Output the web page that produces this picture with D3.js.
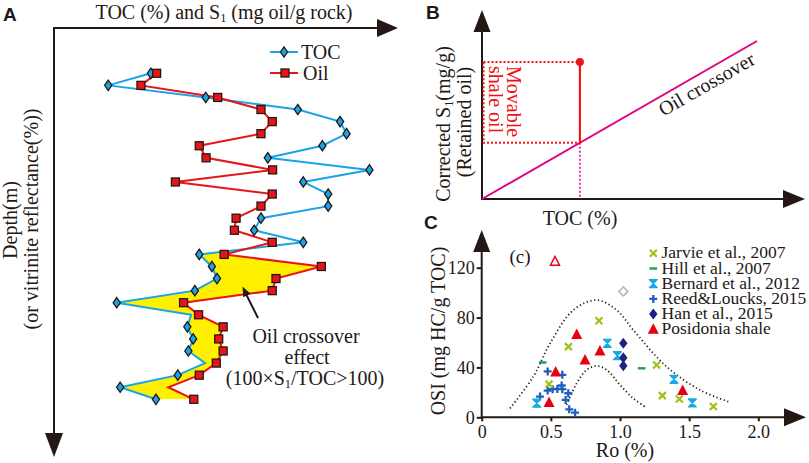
<!DOCTYPE html>
<html>
<head>
<meta charset="utf-8">
<script src="https://cdn.jsdelivr.net/npm/d3@7"></script>
<style>
  html, body { margin: 0; padding: 0; background: #fff; }
  svg { display: block; }
</style>
</head>
<body>
<svg id="chart" width="809" height="463"></svg>
<script>
// ---------------- Panel A data ----------------
const depthLevels = [1,2,3,4,5,6,7,8,9,10,11,12,13,14,15,16,17,18,19,20,21,22,23,24,25,26,27,28];
const tocValues = [2.84,1.59,4.45,7.15,8.39,8.58,7.87,6.27,9.25,7.31,8.04,8.04,6.07,5.87,7.31,4.26,4.63,4.78,4.13,1.84,4.02,3.91,4.08,3.94,4.43,3.63,1.94,2.99];
const oilValues = [3.01,2.55,4.80,6.07,6.40,6.07,4.26,4.46,6.41,3.56,6.40,6.07,5.34,5.29,6.40,4.99,7.84,6.51,6.40,3.80,4.24,4.96,4.83,4.96,4.76,4.26,3.35,4.10];
const tocHiddenMarkers = [21, 25];   // depth levels drawn without marker
const oilHiddenMarkers = [27];
const crossoverStartLevel = 15;      // shading applies from this level downward
const legendA = ["TOC", "Oil"];

// ---------------- Panel B data ----------------
const crossoverLine = [[0, 0], [10, 10]];
const samplePoint = { toc: 3.56, s1: 8.67 };

// ---------------- Panel C data ----------------
const jarvie = [[0.848,77.5],[0.627,56.7],[0.487,26.6],[1.265,42],[1.306,17.4],[1.429,14.7],[1.675,8.6]];
const hill = [[0.441,44],[1.157,39.3]];
const bernard = [[0.398,11.3],[0.908,59.3],[0.981,49.4],[1.39,30.5],[1.523,11.5]];
const reed = [[0.477,36.8],[0.583,34.1],[0.422,16.6],[0.477,21.4],[0.513,22.6],[0.547,22.8],[0.578,25.5],[0.583,22.6],[0.626,19.3],[0.607,13.9],[0.633,6.4],[0.675,3.7]];
const han = [[1.024,59.3],[1.024,47.8],[1.024,41.4]];
const posidonia = [[0.687,66.5],[0.855,53.2],[0.747,46],[0.535,36.3],[0.487,11.8],[1.453,21.4]];
const posidoniaOutlier = [[0.53,125]];
const greyOutlier = [[1.024,101]];
const outerEnvelope = [[0.205,7.2],[0.373,32.6],[0.494,59.3],[0.663,86],[0.831,94],[0.976,86],[1.096,70],[1.337,40.6],[1.578,21.9],[1.783,12.6]];
const innerEnvelope = [[0.614,9.9],[0.687,27.3],[0.759,38],[0.831,41.2],[0.904,38],[1.0,26],[1.096,15.2],[1.18,8.6]];
const yTicksC = [0, 40, 80, 120];
const xTicksC = [0, 0.5, 1.0, 1.5, 2.0];
const legendC = ["Jarvie et al., 2007","Hill et al., 2007","Bernard et al., 2012","Reed&Loucks, 2015","Han et al., 2015","Posidonia shale"];

// ---------------- styles ----------------
const INK = "#231815";
const BLUE = "#1aa3e8";
const RED = "#e8141a";
const YELLOW = "#fff000";
const MAGENTA = "#e4007f";
const SERIF = '"Liberation Serif", "Times New Roman", serif';
const SANS = '"Liberation Sans", Arial, sans-serif';

const svg = d3.select("#chart");

function arrow(g, tip, dir, len, half) {
  let pts;
  const [x, y] = tip;
  if (dir === "right") pts = [[x, y], [x - len, y - half], [x - len, y + half]];
  if (dir === "down") pts = [[x, y], [x - half, y - len], [x + half, y - len]];
  if (dir === "up") pts = [[x, y], [x - half, y + len], [x + half, y + len]];
  g.append("path").attr("d", "M" + pts.map(p => p.join(",")).join("L") + "Z").attr("fill", INK);
}

function serifText(g, x, y, size, parts, opts = {}) {
  const t = g.append("text").attr("x", x).attr("y", y)
    .attr("font-family", SERIF).attr("font-size", size)
    .attr("fill", opts.fill || INK)
    .attr("text-anchor", opts.anchor || "middle");
  if (opts.transform) t.attr("transform", opts.transform);
  let pending = 0;
  parts.forEach(p => {
    if (typeof p === "string") {
      const s = t.append("tspan").text(p);
      if (pending) { s.attr("dy", pending); pending = 0; }
    } else {
      t.append("tspan").attr("font-size", size * 0.62).attr("dy", size * 0.16).text(p.sub);
      pending = -size * 0.16;
    }
  });
  return t;
}

// ================= Panel A =================
const gA = svg.append("g");
const xA = d3.scaleLinear().domain([0, 10]).range([54, 395]);
const yA = d3.scaleLinear().domain([1, 28]).range([73.3, 399.3]);

const rows = depthLevels.map((d, i) => ({ depth: d, toc: tocValues[i], oil: oilValues[i] }));

// axes
gA.append("line").attr("x1", 54).attr("y1", 28).attr("x2", 382).attr("y2", 28).attr("stroke", INK).attr("stroke-width", 2);
gA.append("line").attr("x1", 54).attr("y1", 27).attr("x2", 54).attr("y2", 440).attr("stroke", INK).attr("stroke-width", 2);
arrow(gA, [398, 28], "right", 21, 9);
arrow(gA, [54, 457], "down", 24, 9);

// crossover shading
const shadeRows = rows.filter(r => r.depth >= crossoverStartLevel);
const defs = svg.append("defs");
defs.append("clipPath").attr("id", "rightOfToc").append("path")
  .attr("d", d3.area().y(r => yA(r.depth)).x0(r => xA(r.toc)).x1(800)(shadeRows));
gA.append("path")
  .attr("d", d3.area().y(r => yA(r.depth)).x0(r => xA(r.toc)).x1(r => xA(r.oil))(shadeRows))
  .attr("fill", YELLOW).attr("clip-path", "url(#rightOfToc)");

// lines
gA.append("path").attr("d", d3.line().x(r => xA(r.toc)).y(r => yA(r.depth))(rows))
  .attr("fill", "none").attr("stroke", BLUE).attr("stroke-width", 2);
gA.append("path").attr("d", d3.line().x(r => xA(r.oil)).y(r => yA(r.depth))(rows))
  .attr("fill", "none").attr("stroke", RED).attr("stroke-width", 2);

const diamondPath = "M0,-5.2L3.6,0L0,5.2L-3.6,0Z";
function diamond(g, x, y, fill) {
  g.append("path").attr("d", diamondPath).attr("transform", `translate(${x},${y})`)
    .attr("fill", fill).attr("stroke", INK).attr("stroke-width", 1.3);
}
function square(g, x, y) {
  g.append("rect").attr("x", x - 4).attr("y", y - 4).attr("width", 8).attr("height", 8)
    .attr("fill", RED).attr("stroke", INK).attr("stroke-width", 1.3);
}
rows.filter(r => !tocHiddenMarkers.includes(r.depth)).forEach(r => diamond(gA, xA(r.toc), yA(r.depth), BLUE));
rows.filter(r => !oilHiddenMarkers.includes(r.depth)).forEach(r => square(gA, xA(r.oil), yA(r.depth)));

// legend A
gA.append("line").attr("x1", 270).attr("x2", 298).attr("y1", 52).attr("y2", 52).attr("stroke", BLUE).attr("stroke-width", 2);
diamond(gA, 284, 52, BLUE);
serifText(gA, 301, 59, 20, [legendA[0]], { anchor: "start" });
gA.append("line").attr("x1", 270).attr("x2", 298).attr("y1", 73).attr("y2", 73).attr("stroke", RED).attr("stroke-width", 2);
square(gA, 285, 73);
serifText(gA, 303, 80, 20, [legendA[1]], { anchor: "start" });

// titles
gA.append("text").attr("x", 3).attr("y", 21).attr("font-family", SANS).attr("font-weight", "bold").attr("font-size", 19).attr("fill", INK).text("A");
serifText(gA, 224, 19, 20, ["TOC (%) and S", { sub: "1" }, " (mg oil/g rock)"]);
serifText(gA, 0, 0, 20, ["Depth(m)"], { transform: "translate(17,220) rotate(-90)" });
serifText(gA, 0, 0, 20, ["(or vitrinite reflectance(%))"], { transform: "translate(38,219) rotate(-90)" });

// annotation
serifText(gA, 306, 343, 20, ["Oil crossover"]);
serifText(gA, 307, 364, 20, ["effect"]);
serifText(gA, 305, 385, 20, ["(100×S", { sub: "1" }, "/TOC>100)"]);
gA.append("line").attr("x1", 258).attr("y1", 318).attr("x2", 246).attr("y2", 294).attr("stroke", INK).attr("stroke-width", 2);
(function () {
  const tip = [242.5, 286.5], ang = Math.atan2(318 - 286.5, 258 - 242.5);
  const L = 10, H = 4;
  const bx = tip[0] + L * Math.cos(ang), by = tip[1] + L * Math.sin(ang);
  const px = -Math.sin(ang) * H, py = Math.cos(ang) * H;
  gA.append("path").attr("d", `M${tip}L${bx + px},${by + py}L${bx - px},${by - py}Z`).attr("fill", INK);
})();

// ================= Panel B =================
const gB = svg.append("g");
const xB = d3.scaleLinear().domain([0, 10]).range([482, 757]);
const yB = d3.scaleLinear().domain([0, 10]).range([199, 41]);

gB.append("line").attr("x1", 482).attr("y1", 200).attr("x2", 482).attr("y2", 28).attr("stroke", INK).attr("stroke-width", 2);
gB.append("line").attr("x1", 481).attr("y1", 199).attr("x2", 787).attr("y2", 199).attr("stroke", INK).attr("stroke-width", 2);
arrow(gB, [482, 10], "up", 22, 8.5);
arrow(gB, [805, 199], "right", 22, 9);

gB.append("path").attr("d", d3.line().x(d => xB(d[0])).y(d => yB(d[1]))(crossoverLine))
  .attr("stroke", MAGENTA).attr("stroke-width", 2).attr("fill", "none");

const sx = xB(samplePoint.toc), sy = yB(samplePoint.s1), cy = yB(samplePoint.toc);
gB.append("line").attr("x1", sx).attr("x2", sx).attr("y1", cy).attr("y2", 199)
  .attr("stroke", MAGENTA).attr("stroke-width", 1.6).attr("stroke-dasharray", "2,2");
gB.append("rect").attr("x", 483.5).attr("y", sy).attr("width", sx - 483.5).attr("height", cy - sy)
  .attr("fill", "none").attr("stroke", "#f01010").attr("stroke-width", 2).attr("stroke-dasharray", "2,2");
gB.append("line").attr("x1", sx).attr("x2", sx).attr("y1", sy).attr("y2", cy).attr("stroke", "#f01010").attr("stroke-width", 2);
gB.append("circle").attr("cx", sx).attr("cy", sy).attr("r", 4).attr("fill", "#e8141a");

serifText(gB, 0, 0, 20, ["Movable"], { anchor: "start", fill: "#f01010", transform: "translate(507,66) rotate(90)" });
serifText(gB, 0, 0, 20, ["shale oil"], { anchor: "start", fill: "#f01010", transform: "translate(489,66) rotate(90)" });

const angB = Math.atan2(yB(10) - yB(0), xB(10) - xB(0)) * 180 / Math.PI;
serifText(gB, 0, 0, 20, ["Oil crossover"], { transform: `translate(710,90) rotate(${angB})` });

gB.append("text").attr("x", 426).attr("y", 19).attr("font-family", SANS).attr("font-weight", "bold").attr("font-size", 19).attr("fill", INK).text("B");
serifText(gB, 580, 225, 20, ["TOC (%)"]);
serifText(gB, 0, 0, 20, ["Corrected  S", { sub: "1" }, "(mg/g)"], { transform: "translate(450,124) rotate(-90)" });
serifText(gB, 0, 0, 20, ["(Retained oil)"], { transform: "translate(471,122) rotate(-90)" });

// ================= Panel C =================
const gC = svg.append("g");
const xC = d3.scaleLinear().domain([0, 2]).range([481.7, 758.3]);
const yC = d3.scaleLinear().domain([0, 120]).range([417.3, 267.7]);

gC.append("line").attr("x1", 481.7).attr("y1", 418).attr("x2", 481.7).attr("y2", 248).attr("stroke", INK).attr("stroke-width", 2);
gC.append("line").attr("x1", 481).attr("y1", 417.3).attr("x2", 788).attr("y2", 417.3).attr("stroke", INK).attr("stroke-width", 2);
arrow(gC, [481.7, 230], "up", 22, 8.5);
arrow(gC, [806, 417.3], "right", 22, 9);

const axL = gC.append("g").attr("transform", "translate(481.7,0)")
  .call(d3.axisLeft(yC).tickValues(yTicksC).tickSize(5).tickPadding(2));
const axB = gC.append("g").attr("transform", "translate(0,417.3)")
  .call(d3.axisBottom(xC).tickValues(xTicksC).tickSize(4).tickPadding(4)
    .tickFormat(d => d === 0 ? "0" : d3.format(".1f")(d)));
[axL, axB].forEach(a => {
  a.select(".domain").remove();
  a.selectAll("line").attr("stroke", INK).attr("stroke-width", 2);
  a.selectAll("text").attr("font-family", SERIF).attr("font-size", 18).attr("fill", INK);
});

// envelopes
[outerEnvelope, innerEnvelope].forEach(curve => {
  gC.append("path").attr("d", d3.line().x(d => xC(d[0])).y(d => yC(d[1])).curve(d3.curveCatmullRom)(curve))
    .attr("fill", "none").attr("stroke", INK).attr("stroke-width", 1.8).attr("stroke-dasharray", "1.2,2.6");
});

const COL = { jarvie: "#9cc31a", hill: "#16a05a", bernard: "#16a8e8", reed: "#1f5fc0", han: "#1c2280", pos: "#e60012" };
function drawMarker(g, type, x, y) {
  const t = `translate(${x},${y})`;
  if (type === "jarvie") g.append("path").attr("d", "M-3.5,-3.5L3.5,3.5M-3.5,3.5L3.5,-3.5").attr("transform", t).attr("stroke", COL.jarvie).attr("stroke-width", 2.2);
  if (type === "hill") g.append("path").attr("d", "M-3.8,0H3.8").attr("transform", t).attr("stroke", COL.hill).attr("stroke-width", 2.4);
  if (type === "bernard") {
    g.append("path").attr("d", "M-4,-4H4L-4,4H4Z").attr("transform", t).attr("fill", COL.bernard).attr("stroke", COL.bernard).attr("stroke-width", 1.2).attr("stroke-linejoin", "round");
  }
  if (type === "reed") g.append("path").attr("d", "M-4,0H4M0,-4V4").attr("transform", t).attr("stroke", COL.reed).attr("stroke-width", 2.3);
  if (type === "han") g.append("path").attr("d", "M0,-5.5L4.2,0L0,5.5L-4.2,0Z").attr("transform", t).attr("fill", COL.han);
  if (type === "pos") g.append("path").attr("d", "M0,-6L5.5,4.5H-5.5Z").attr("transform", t).attr("fill", COL.pos);
  if (type === "posOpen") g.append("path").attr("d", "M0,-5L4.5,3.8H-4.5Z").attr("transform", t).attr("fill", "#fff").attr("stroke", COL.pos).attr("stroke-width", 1.5);
  if (type === "grey") g.append("path").attr("d", "M0,-4.5L4.5,0L0,4.5L-4.5,0Z").attr("transform", t).attr("fill", "#fff").attr("stroke", "#b8b8b8").attr("stroke-width", 1.6);
}
const seriesC = [["reed", reed], ["bernard", bernard], ["jarvie", jarvie], ["hill", hill], ["han", han], ["pos", posidonia], ["posOpen", posidoniaOutlier], ["grey", greyOutlier]];
seriesC.forEach(([type, data]) => data.forEach(d => drawMarker(gC, type, xC(d[0]), yC(d[1]))));

// legend C
const legTypes = ["jarvie", "hill", "bernard", "reed", "han", "pos"];
legendC.forEach((name, i) => {
  const y = 253.3 + i * 15.2;
  drawMarker(gC, legTypes[i], 653.3, y);
  serifText(gC, 661.5, y + 5, 17.5, [name], { anchor: "start" });
});

gC.append("text").attr("x", 424).attr("y", 229).attr("font-family", SANS).attr("font-weight", "bold").attr("font-size", 19).attr("fill", INK).text("C");
serifText(gC, 520, 263, 19, ["(c)"]);
serifText(gC, 625, 457, 20, ["Ro (%)"]);
serifText(gC, 0, 0, 20, ["OSI (mg HC/g TOC)"], { transform: "translate(445,331) rotate(-90)" });
</script>
</body>
</html>
